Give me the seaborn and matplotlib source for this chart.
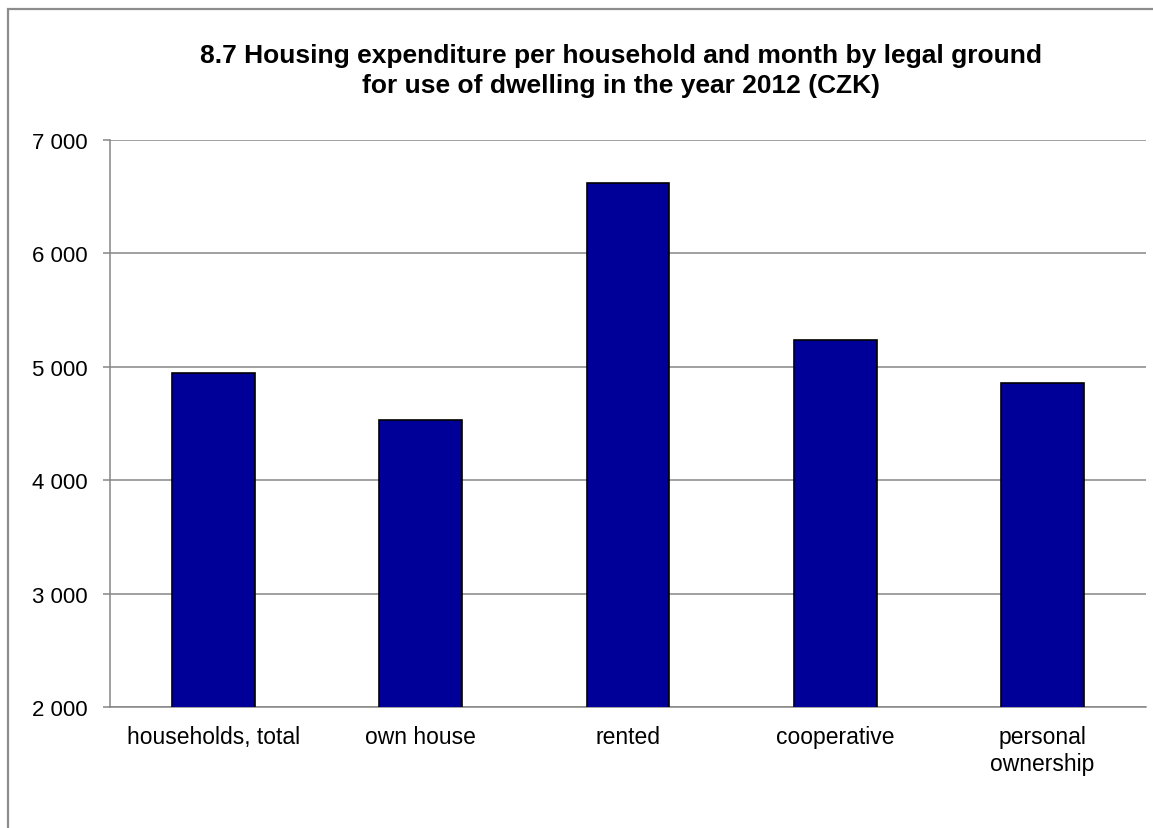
import matplotlib
matplotlib.use('Agg')
import matplotlib.pyplot as plt
import matplotlib.patches as patches
import seaborn as sns
import numpy as np
import pandas as pd

categories = ['households, total', 'own house', 'rented', 'cooperative', 'personal\nownership']
expenditure = [4945, 4530, 6623, 5235, 4860]
y_ticks = [2000, 3000, 4000, 5000, 6000, 7000]

title_lines = ['8.7 Housing expenditure per household and month by legal ground',
               'for use of dwelling in the year 2012 (CZK)']

sns.set_style('white')
plt.rcParams['font.family'] = ['Liberation Sans', 'DejaVu Sans']
plt.rcParams['text.color'] = 'black'
plt.rcParams['xtick.labelcolor'] = 'black'
plt.rcParams['ytick.labelcolor'] = 'black'

df = pd.DataFrame({'category': categories, 'value': expenditure})

fig = plt.figure(figsize=(11.53, 8.29), dpi=100)
ax = fig.add_axes([0.0954, 0.146, 0.8985, 0.684])

# outer chart frame
fig.patches.append(patches.Rectangle((0.007, -0.01), 1.0, 0.998, transform=fig.transFigure,
                                     fill=False, edgecolor='#8c8c8c', linewidth=1.6))

sns.barplot(data=df, x='category', y='value', ax=ax, color='#000099',
            width=0.4, edgecolor='black', linewidth=1.2, saturation=1, zorder=3)

ax.set_ylim(2000, 7000)
ax.set_xlim(-0.5, len(categories) - 0.5)
ax.set_yticks(y_ticks)
ax.set_yticklabels([f'{v:,}'.replace(',', ' ') for v in y_ticks], fontsize=16, color='black')
ax.yaxis.grid(True, color='#868686', linewidth=1.1, zorder=0)
ax.set_axisbelow(True)

ax.set_xticks(range(len(categories)))
ax.set_xticklabels(categories, fontsize=16.5, linespacing=1.2, color='black')
ax.set_xticks(np.arange(-0.5, len(categories), 1), minor=True)
ax.tick_params(axis='x', which='major', length=0, pad=13)
ax.tick_params(axis='x', which='minor', length=6, color='#868686', width=1.1, direction='out')
ax.tick_params(axis='y', length=5, color='#868686', width=1.1, direction='out', left=True, pad=11)

ax.set_xlabel('')
ax.set_ylabel('')
for side in ['top', 'right']:
    ax.spines[side].set_visible(False)
for side in ['left', 'bottom']:
    ax.spines[side].set_color('#868686')
    ax.spines[side].set_linewidth(1.1)

fig.text(0.539, 1 - 63 / 829, title_lines[0], ha='center', va='baseline',
         fontsize=19, fontweight='bold', color='black')
fig.text(0.539, 1 - 93 / 829, title_lines[1], ha='center', va='baseline',
         fontsize=19, fontweight='bold', color='black')

fig.savefig('out.png', dpi=100)
